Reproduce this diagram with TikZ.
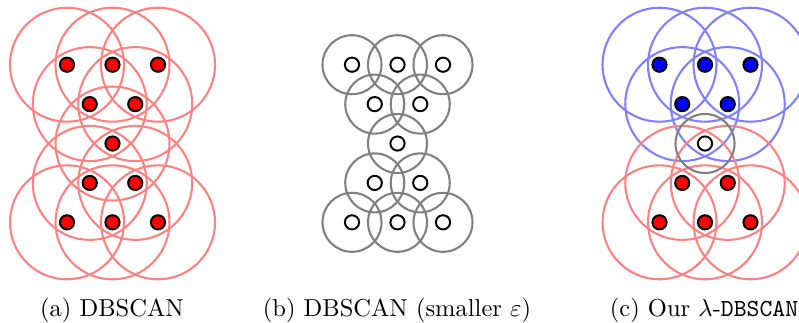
\documentclass[tikz,border=0pt]{standalone}
\begin{document}
\begin{tikzpicture}[x=0.408pt,y=-0.408pt,
  ring/.style={line width=0.85pt},
  dot/.style={circle,draw=black,line width=0.8pt,minimum size=5.8pt,inner sep=0pt},
  captext/.style={anchor=base,inner sep=0pt,font=\fontsize{10}{12}\selectfont}]
\useasboundingbox (0,0) rectangle (799,322);
\clip (0,0) rectangle (799,322);
\def\pts{-1/-2/1,0/-2/2,1/-2/3,-0.5/-1/4,0.5/-1/5,0/0/6,-0.5/1/7,0.5/1/8,-1/2/9,0/2/10,1/2/11}
% coordinates
\foreach \dx/\dy/\i in \pts {
  \coordinate (a\i) at ({112.5+\dx*45.5},{143.5+\dy*39.4});
  \coordinate (b\i) at ({397.5+\dx*45.5},{143.5+\dy*39.4});
  \coordinate (c\i) at ({705+\dx*45.5},{143.5+\dy*39.4});
}
% (a) DBSCAN
\foreach \i in {1,...,11} \draw[ring,red!50] (a\i) circle (57);
\foreach \i in {1,...,11} \node[dot,fill=red] (pa\i) at (a\i) {};
% (b) smaller epsilon
\foreach \i in {1,...,11} \draw[ring,gray] (b\i) circle (29.5);
\foreach \i in {1,...,11} \node[dot,fill=white] (pb\i) at (b\i) {};
% (c) lambda-DBSCAN
\foreach \i in {1,...,5} \draw[ring,blue!50] (c\i) circle (57);
\foreach \i in {7,...,11} \draw[ring,red!50] (c\i) circle (57);
\draw[ring,gray] (c6) circle (29.5);
\foreach \i in {1,...,5} \node[dot,fill=blue] (pc\i) at (c\i) {};
\node[dot,fill=white] (pc6) at (c6) {};
\foreach \i in {7,...,11} \node[dot,fill=red] (pc\i) at (c\i) {};
% captions
\node[captext] (capa) at (112,316) {(a) DBSCAN};
\node[captext] (capb) at (397,316) {(b) DBSCAN (smaller $\varepsilon$)};
\node[captext] (capc) at (704,316) {(c) Our $\lambda$-\texttt{DBSCAN}};
\end{tikzpicture}
\end{document}
